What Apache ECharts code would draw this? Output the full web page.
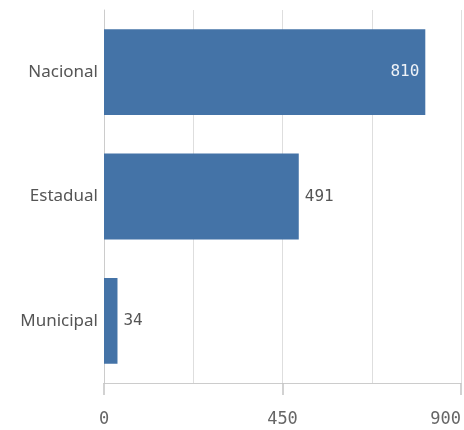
<!DOCTYPE html>
<html>
<head>
<meta charset="utf-8">
<script src="https://cdn.jsdelivr.net/npm/echarts@6/dist/echarts.min.js"></script>
<style>
html,body{margin:0;padding:0;background:#fff;}
#chart{width:464px;height:430px;}
</style>
</head>
<body>
<div id="chart"></div>
<script>
// Categories and values
const categories = ['Nacional', 'Estadual', 'Municipal'];
const values = [810, 491, 34];
const axisMin = 0;
const axisMax = 900;
const axisStep = 450;

const barColor = '#4473a7';
const monoFont = '"DejaVu Sans Mono", "Liberation Mono", monospace';
const sansFont = '"Noto Sans", "Open Sans", sans-serif';

const chart = echarts.init(document.getElementById('chart'));
chart.setOption({
  animation: false,
  grid: { left: 104, right: 3, top: 10, bottom: 47, containLabel: false },
  xAxis: {
    type: 'value',
    min: axisMin,
    max: axisMax,
    interval: axisStep,
    axisLine: { show: true, onZero: false, lineStyle: { color: '#cccccc', width: 1 } },
    axisTick: { show: true, length: 12, lineStyle: { color: '#c4c4c4', width: 1.5 } },
    axisLabel: {
      margin: 28,
      color: '#666',
      fontFamily: monoFont,
      fontSize: 17,
      alignMaxLabel: 'right'
    },
    splitLine: { show: true, lineStyle: { color: '#dedede', width: 1 } },
    minorSplitLine: { show: true, lineStyle: { color: '#dedede', width: 1 } },
    minorTick: { show: false, splitNumber: 2 }
  },
  yAxis: {
    type: 'category',
    data: categories,
    inverse: true,
    axisLine: { show: true, lineStyle: { color: '#cccccc', width: 1 } },
    axisTick: { show: false },
    axisLabel: { margin: 6, color: '#555', fontFamily: sansFont, fontSize: 17 }
  },
  series: [{
    type: 'bar',
    data: values.map((v, i) => ({
      value: v,
      label: i === 0
        ? { position: 'insideRight', distance: 6, color: '#eef2f7' }
        : { position: 'right', distance: 6, color: '#555' }
    })),
    barWidth: '69%',
    itemStyle: { color: barColor },
    label: {
      show: true,
      fontFamily: monoFont,
      fontSize: 16
    }
  }]
});
</script>
</body>
</html>
